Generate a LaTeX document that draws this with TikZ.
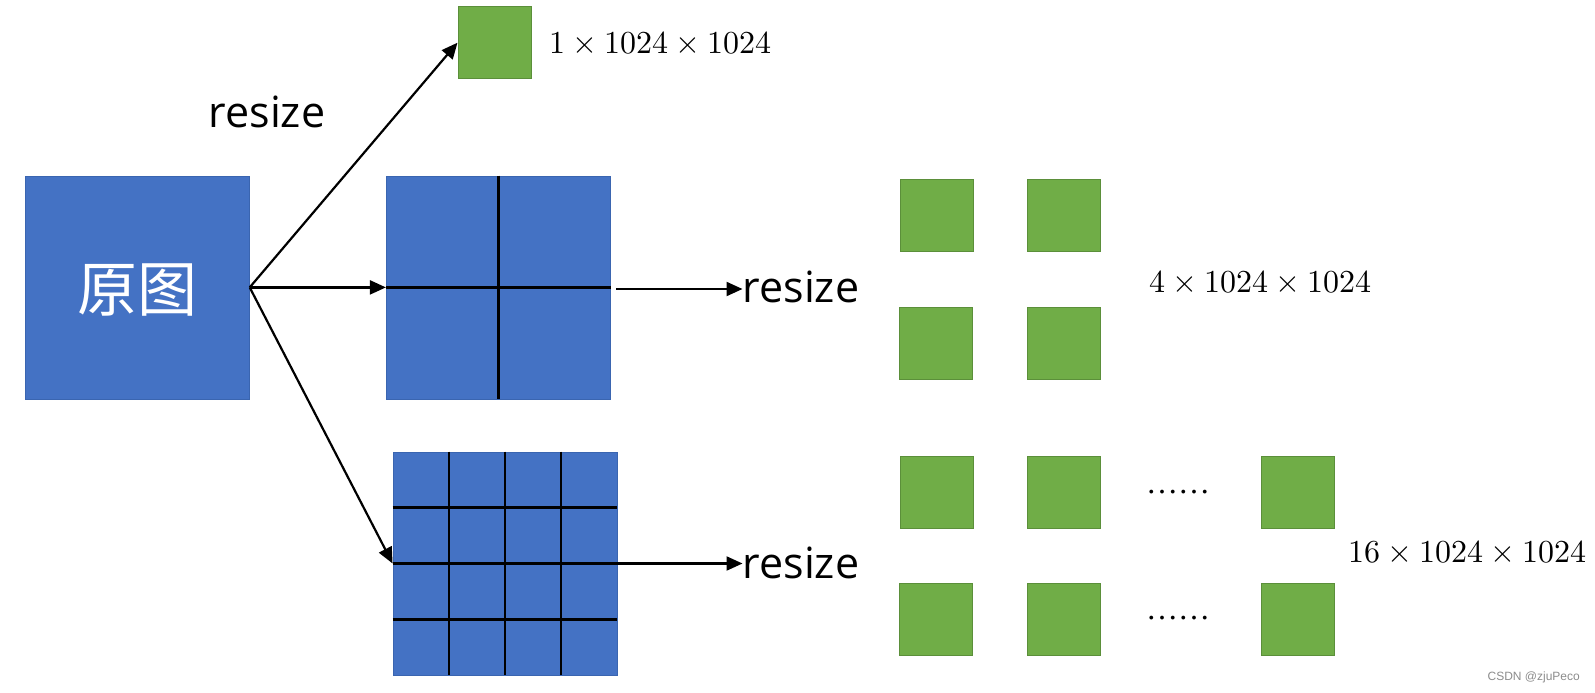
\documentclass[tikz,border=0pt]{standalone}
\usepackage{fontspec}
\usepackage{unicode-math}
\newfontfamily\cjk{Noto Sans CJK SC}
\newfontfamily\osans{Open Sans}
\newfontfamily\wm{Liberation Sans}
\newfontfamily\tms{Liberation Serif}
\usetikzlibrary{arrows.meta,calc}
\definecolor{blueF}{HTML}{4472C4}
\definecolor{blueD}{HTML}{3A65B0}
\definecolor{greenF}{HTML}{70AD47}
\definecolor{greenD}{HTML}{5B8F3A}
\begin{document}
\begin{tikzpicture}[x=1pt,y=-1pt,
  bluebox/.style={draw=blueD,fill=blueF,line width=0.8pt,inner sep=0pt,minimum width=224pt,minimum height=223pt},
  gsq/.style={draw=greenD,fill=greenF,line width=0.8pt,inner sep=0pt,minimum width=73pt,minimum height=72pt},
  gridline/.style={line width=2.5pt,black},
  arr/.style={line width=2.2pt,-{Triangle[length=16pt,width=14pt]}},
  rsz/.style={font=\osans\fontsize{43}{48}\selectfont,inner sep=0pt,anchor=base west},
  dims/.style={font=\fontsize{32}{36}\selectfont,inner sep=0pt,anchor=base west},
  dotsl/.style={font=\tms\fontsize{32}{36}\selectfont,inner sep=0pt,anchor=base}]
\useasboundingbox (0,0) rectangle (1595,693);
% original image
\node[bluebox] (big) at (137.3,287.4) {};
\node[font=\cjk\fontsize{60}{66}\selectfont,text=white] (yt) at (137,290) {原图};
% 2x2 split
\node[bluebox] (mid) at (498.3,287.4) {};
\draw[gridline] (mid.north) -- (mid.south);
\draw[gridline] (mid.west) -- (mid.east);
% 4x4 split
\node[bluebox] (grid) at (505,563.5) {};
\foreach \f in {0.25,0.5,0.75}{
  \draw[gridline] ($(grid.north west)!\f!(grid.north east)$) -- ($(grid.south west)!\f!(grid.south east)$);
  \draw[gridline] ($(grid.north west)!\f!(grid.south west)$) -- ($(grid.north east)!\f!(grid.south east)$);
}
% top green
\node[gsq] (g0) at (494.4,42.7) {};
\node[dims] (d1) at (549,53) {$1\times1024\times1024$};
\node[rsz] (r1) at (208.5,127) {resize};
% arrows from original
\draw[arr] (big.east) -- (g0.west);
\draw[arr] (big.east) -- (mid.west);
\draw[arr] (big.east) -- (grid.west);
% middle resize
\node[rsz] (r2) at (742.5,302) {resize};
\coordinate (m2) at (616.4,289);
\draw[arr] (m2) -- (m2 -| r2.west);
\node[rsz] (r3) at (742.5,578) {resize};
\draw[arr] (grid.east) -- (grid.east -| r3.west);
% four green
\node[gsq] (a1) at (936.8,215) {};
\node[gsq] (a2) at (1064,215) {};
\node[gsq] (a3) at (935.8,343.2) {};
\node[gsq] (a4) at (1064,343.2) {};
\node[dims] (d4) at (1149.5,292) {$4\times1024\times1024$};
% sixteen green
\node[gsq] (b1) at (936.8,492.4) {};
\node[gsq] (b2) at (1064,492.4) {};
\node[gsq] (b3) at (1297.5,492.4) {};
\node[gsq] (b4) at (936,619.5) {};
\node[gsq] (b5) at (1064,619.5) {};
\node[gsq] (b6) at (1297.5,619.5) {};
\node[dotsl] (e1) at (1178,493) {……};
\node[dotsl] (e2) at (1178,619) {……};
\node[dims] (d16) at (1347.8,562) {$16\times1024\times1024$};
% watermark
\node[font=\wm\fontsize{12}{14}\selectfont,text=black!45,inner sep=0pt,anchor=base east] (wmk) at (1580,680) {CSDN @zjuPeco};
\end{tikzpicture}
\end{document}
